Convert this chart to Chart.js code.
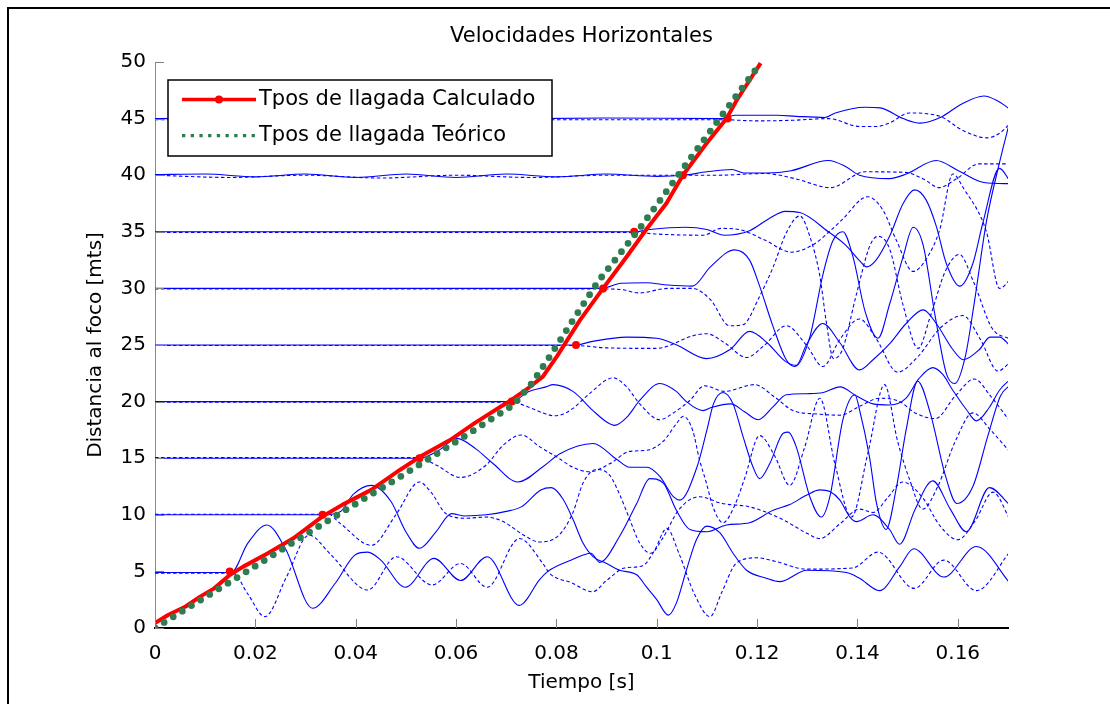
<!DOCTYPE html>
<html>
<head>
<meta charset="utf-8">
<script src="https://cdn.jsdelivr.net/npm/chart.js@4"></script>
<style>
  html, body { margin: 0; padding: 0; background: #fff; overflow: hidden; }
  #wrap { position: relative; width: 1110px; height: 704px; }
  #frame { position: absolute; left: 7px; top: 7px; width: 1200px; height: 800px; border: 2px solid #000; }
  #chart { position: absolute; left: 0; top: 0; }
</style>
</head>
<body>
<div id="wrap">
  <div id="frame"></div>
  <canvas id="chart" width="1110" height="704"></canvas>
</div>
<script>
// axis ticks
const xTicks = [0, 0.02, 0.04, 0.06, 0.08, 0.1, 0.12, 0.14, 0.16];
const yTicks = [0, 5, 10, 15, 20, 25, 30, 35, 40, 45, 50];

// arrival times, [tiempo s, distancia m]
const calculado = [[0,0.44],[0.0026,1.15],[0.0061,1.9],[0.009,2.77],[0.0118,3.5],[0.0149,4.68],[0.0175,5.4],[0.0225,6.6],[0.0275,7.9],[0.0332,9.8],[0.0374,10.9],[0.0431,12.2],[0.0488,13.96],[0.0527,15.1],[0.0588,16.6],[0.0637,18.1],[0.0687,19.5],[0.0709,20.1],[0.0744,21.2],[0.0773,22.2],[0.0801,24.0],[0.0847,27.2],[0.0893,30.0],[0.094,32.8],[0.0979,35.2],[0.1019,37.5],[0.1052,40.0],[0.1099,42.8],[0.1139,45.0],[0.1159,46.6],[0.1207,49.9]];
const calcMarks = [[0.0149,5],[0.0334,10],[0.0527,15],[0.0711,20],[0.0839,25],[0.0893,30],[0.0955,35],[0.1052,40],[0.1141,45]];
const teorico = [[0,0],[0.0147,4.0],[0.0327,9.0],[0.049,13.4],[0.0605,16.6],[0.0714,19.7],[0.0751,21.6],[0.0787,24.0],[0.0833,27.2],[0.0883,30.6],[0.0966,35.3],[0.1046,40.2],[0.1125,45.0],[0.1207,49.9]];

// seismic traces, solid (s) and dashed (d) per receiver distance
const s5 = [[0,4.9],[0.0152,4.9],[0.0185,7.5],[0.0223,9.1],[0.026,7.0],[0.0314,1.74],[0.036,4.0],[0.04,6.5],[0.0424,6.7],[0.045,6.0],[0.0499,3.6],[0.0556,6.15],[0.0609,4.2],[0.0662,6.3],[0.0726,2.0],[0.0767,4.3],[0.0783,5.0],[0.083,6.0],[0.0869,6.6],[0.0886,5.8],[0.0926,8.1],[0.096,11.0],[0.0986,13.2],[0.1013,12.8],[0.1039,10.4],[0.1066,8.7],[0.11,8.5],[0.1139,9.1],[0.1185,9.3],[0.1232,10.4],[0.1265,10.9],[0.1299,11.75],[0.1325,12.2],[0.1345,12.05],[0.1365,11.3],[0.1385,9.8],[0.1398,9.4],[0.1431,10.0],[0.1464,8.7],[0.1484,7.4],[0.1515,10.5],[0.155,13.0],[0.1585,10.5],[0.1617,8.5],[0.1663,12.4],[0.1705,10.8]];
const d5 = [[0,4.85],[0.0155,4.85],[0.0185,3.0],[0.0219,1.0],[0.0262,4.5],[0.0307,8.2],[0.035,6.5],[0.0424,3.36],[0.0481,6.3],[0.0552,3.8],[0.0609,5.7],[0.0662,3.6],[0.0726,7.9],[0.0773,5.7],[0.0787,4.8],[0.083,4.0],[0.0872,3.2],[0.09,4.2],[0.0936,5.3],[0.0972,5.5],[0.0995,6.8],[0.102,8.8],[0.1045,6.5],[0.1075,3.0],[0.1106,1.0],[0.113,3.2],[0.1158,5.7],[0.12,6.2],[0.1235,5.9],[0.1299,5.2],[0.139,5.3],[0.1441,6.7],[0.1513,3.5],[0.1572,6.0],[0.1637,3.3],[0.1705,6.8]];
const s10 = [[0,10],[0.0334,10],[0.037,10.3],[0.0395,11.8],[0.0431,12.6],[0.047,11.2],[0.05,8.5],[0.0527,7.04],[0.056,8.5],[0.0591,10.1],[0.0616,9.9],[0.066,10.0],[0.07,10.3],[0.073,10.7],[0.0769,12.2],[0.079,12.4],[0.0813,11.4],[0.0833,9.6],[0.0853,7.5],[0.0873,6.3],[0.09,5.7],[0.0926,5.1],[0.096,4.7],[0.0979,3.65],[0.1,2.5],[0.1023,1.14],[0.1039,2.2],[0.1059,5.1],[0.1079,7.8],[0.11,9.0],[0.1126,8.4],[0.1152,6.6],[0.1179,5.1],[0.1218,4.4],[0.1245,4.1],[0.1299,5.1],[0.1378,4.9],[0.1404,4.4],[0.1444,3.3],[0.1484,5.4],[0.1512,7.0],[0.1572,4.5],[0.1637,7.2],[0.1705,3.9]];
const d10 = [[0,10.05],[0.0345,10.05],[0.037,9.2],[0.0431,7.3],[0.048,10.0],[0.0527,12.9],[0.055,12.0],[0.058,10.1],[0.062,9.7],[0.066,9.8],[0.0694,9.4],[0.0735,8.2],[0.0766,7.6],[0.0805,8.2],[0.0833,10.2],[0.0853,12.8],[0.088,14.0],[0.0906,13.5],[0.0926,11.8],[0.0946,9.6],[0.0966,7.5],[0.0988,6.6],[0.101,7.8],[0.1045,10.5],[0.1085,11.6],[0.113,11.0],[0.1185,10.7],[0.125,9.6],[0.1298,8.4],[0.1325,7.9],[0.1365,9.2],[0.1404,10.5],[0.1431,10.2],[0.146,11.5],[0.149,12.9],[0.153,11.5],[0.1565,9.0],[0.16,7.8],[0.1635,9.5],[0.167,12.0],[0.1705,9.5]];
const s15 = [[0,15],[0.0527,15],[0.0566,15.7],[0.0602,16.75],[0.064,15.8],[0.0673,14.55],[0.0723,12.9],[0.0773,14.25],[0.0807,15.4],[0.0873,16.3],[0.092,14.9],[0.0946,14.2],[0.098,14.2],[0.1006,13.4],[0.1033,11.6],[0.1046,11.3],[0.108,14.2],[0.11,17.5],[0.1113,19.8],[0.1132,20.8],[0.1152,19.8],[0.1172,16.9],[0.1192,14.2],[0.1205,13.2],[0.1225,14.5],[0.1252,17.2],[0.1262,17.3],[0.1278,16.0],[0.1305,11.6],[0.1328,9.8],[0.1345,11.6],[0.1371,18.4],[0.1395,20.6],[0.1404,19.3],[0.1424,15.1],[0.1438,11.0],[0.1457,8.7],[0.1478,12.5],[0.1497,17.5],[0.152,21.8],[0.1545,19.0],[0.1575,13.5],[0.1598,11.0],[0.163,12.5],[0.166,17.0],[0.1685,20.5],[0.1705,21.5]];
const d15 = [[0,15.05],[0.0527,15.05],[0.056,14.4],[0.0609,13.3],[0.066,14.4],[0.0695,16.2],[0.073,17.05],[0.0767,16.0],[0.0801,15.1],[0.0833,14.2],[0.0866,13.8],[0.0906,14.5],[0.0946,15.6],[0.098,15.7],[0.1013,16.5],[0.104,18.1],[0.1053,18.7],[0.1072,17.4],[0.1085,14.9],[0.1099,12.8],[0.1112,10.7],[0.1132,9.3],[0.1155,10.8],[0.1175,13.2],[0.1205,17.0],[0.1235,15.2],[0.1265,12.6],[0.1295,16.0],[0.1325,20.3],[0.1355,14.5],[0.1388,9.8],[0.1421,15.5],[0.1454,21.5],[0.148,16.5],[0.1504,13.1],[0.153,10.5],[0.156,12.5],[0.1595,16.5],[0.163,19.0],[0.1665,17.5],[0.1705,15.5]];
const s20 = [[0,20],[0.0711,20],[0.0745,20.9],[0.0779,21.3],[0.0793,21.5],[0.0833,20.9],[0.0873,19.2],[0.09,18.2],[0.0916,17.9],[0.094,18.6],[0.0966,20.1],[0.1006,21.6],[0.1039,20.9],[0.1059,20.0],[0.1092,19.2],[0.111,19.5],[0.1148,19.8],[0.1175,19.1],[0.1202,18.4],[0.1232,19.55],[0.1258,20.6],[0.1299,20.7],[0.1332,20.8],[0.1365,21.3],[0.1398,20.5],[0.1431,19.8],[0.1464,19.7],[0.1497,20.3],[0.1522,22.0],[0.155,23.0],[0.157,22.4],[0.159,21.0],[0.1617,19.3],[0.1637,18.3],[0.1663,19.5],[0.1683,21.0],[0.1705,22.0]];
const d20 = [[0,19.95],[0.0711,19.95],[0.0745,19.5],[0.0773,19.0],[0.0795,18.75],[0.0807,18.8],[0.0833,19.4],[0.0866,20.7],[0.0913,22.1],[0.094,21.3],[0.0966,19.8],[0.1006,18.4],[0.1033,19.0],[0.1066,20.1],[0.1095,21.4],[0.1135,20.9],[0.1195,21.5],[0.1235,20.4],[0.1272,19.2],[0.132,18.9],[0.1365,18.8],[0.1405,19.6],[0.1444,20.3],[0.1484,20.0],[0.1515,19.0],[0.1555,18.5],[0.1595,20.5],[0.1633,22.0],[0.1665,20.5],[0.1705,18.2]];
const s25 = [[0,25],[0.0839,25],[0.087,25.3],[0.094,25.7],[0.1,25.6],[0.104,25.0],[0.1099,23.8],[0.1146,24.6],[0.1185,26.2],[0.122,25.2],[0.1255,23.6],[0.1278,23.2],[0.1298,25.0],[0.1331,26.9],[0.1365,25.2],[0.1404,22.8],[0.1431,23.7],[0.1464,25.1],[0.1497,26.9],[0.1531,28.1],[0.1557,26.9],[0.159,24.6],[0.1611,23.7],[0.1643,24.6],[0.1664,25.7],[0.1683,25.7],[0.1705,24.9]];
const d25 = [[0,24.95],[0.0839,24.95],[0.09,24.75],[0.1,24.7],[0.1071,25.8],[0.1099,26.0],[0.1135,25.2],[0.1179,23.9],[0.1215,25.0],[0.1258,26.7],[0.1298,25.0],[0.1331,23.1],[0.1365,25.5],[0.1404,27.3],[0.1438,25.5],[0.148,22.6],[0.1521,24.0],[0.1565,26.5],[0.161,27.6],[0.1645,25.5],[0.168,22.7],[0.1705,23.5]];
const s30 = [[0,30],[0.089,30],[0.0929,30.45],[0.0979,30.5],[0.1022,30.3],[0.1071,30.2],[0.1107,31.9],[0.1155,33.4],[0.1185,32.5],[0.1205,30.2],[0.1232,26.6],[0.1258,23.7],[0.1275,23.1],[0.1305,25.7],[0.1331,31.2],[0.1351,34.2],[0.1371,35.0],[0.1391,32.8],[0.1415,28.0],[0.1441,25.6],[0.1464,28.6],[0.1491,32.8],[0.1511,35.4],[0.1531,33.8],[0.1555,27.5],[0.1577,22.5],[0.1594,21.6],[0.1615,24.0],[0.1632,28.5],[0.1657,35.9],[0.1683,41.1],[0.1705,45.0]];
const d30 = [[0,29.95],[0.089,29.95],[0.0929,29.9],[0.0965,29.6],[0.1022,30.0],[0.1071,30.0],[0.1107,29.0],[0.1145,26.7],[0.1172,26.8],[0.1205,29.3],[0.1232,31.9],[0.1258,34.9],[0.1285,36.4],[0.1305,34.6],[0.1325,31.1],[0.1338,27.0],[0.1352,23.8],[0.137,24.6],[0.1398,29.5],[0.1425,33.8],[0.1441,34.6],[0.1464,33.5],[0.1491,28.5],[0.1521,24.7],[0.1545,27.5],[0.1575,31.5],[0.1603,33.0],[0.1632,30.5],[0.1668,26.5],[0.1705,25.5]];
const s35 = [[0,35],[0.0955,35],[0.0986,35.2],[0.1057,35.4],[0.11,35.2],[0.1135,34.7],[0.1185,35.1],[0.1225,36.2],[0.1256,36.8],[0.1285,36.7],[0.1342,35.0],[0.1377,33.8],[0.1405,32.4],[0.1418,31.9],[0.1437,32.5],[0.1464,34.6],[0.1491,37.5],[0.1514,38.7],[0.1537,37.8],[0.1557,35.5],[0.1577,32.2],[0.1604,30.2],[0.163,32.2],[0.165,35.8],[0.1683,40.6],[0.1705,39.4]];
const d35 = [[0,34.95],[0.0955,34.95],[0.1,34.8],[0.1093,34.7],[0.1128,35.3],[0.1164,35.2],[0.1214,34.3],[0.1268,33.2],[0.1313,33.9],[0.1346,35.1],[0.137,36.1],[0.142,38.1],[0.1451,36.9],[0.1477,34.3],[0.1511,31.5],[0.1537,32.6],[0.1564,35.2],[0.159,40.1],[0.1612,38.8],[0.1657,35.0],[0.1683,30.0],[0.1705,30.8]];
const s40 = [[0,40.05],[0.01,40.1],[0.02,39.85],[0.03,40.1],[0.04,39.8],[0.05,40.1],[0.06,39.8],[0.07,40.1],[0.08,39.85],[0.09,40.1],[0.1,39.9],[0.1054,40.0],[0.11,40.3],[0.115,40.5],[0.1174,40.2],[0.122,40.2],[0.1268,40.4],[0.1342,41.3],[0.1377,40.75],[0.1404,40.0],[0.1464,39.7],[0.1497,40.1],[0.1557,41.3],[0.1601,40.4],[0.1652,39.35],[0.1705,39.25]];
const d40 = [[0,40.0],[0.015,39.8],[0.03,40.0],[0.045,39.75],[0.06,40.0],[0.075,39.8],[0.09,40.0],[0.1054,40.0],[0.112,40.0],[0.1214,40.15],[0.1275,39.7],[0.1346,38.9],[0.1415,40.3],[0.1495,40.25],[0.1534,39.6],[0.1562,38.9],[0.1598,39.7],[0.1642,41.0],[0.1705,41.0]];
const s45 = [[0,45],[0.03,45.05],[0.06,44.95],[0.09,45.05],[0.113,45],[0.1155,45.3],[0.124,45.3],[0.1278,45.2],[0.1335,45.1],[0.1356,45.5],[0.1415,46.0],[0.1445,45.95],[0.1491,45.0],[0.1525,44.6],[0.1565,45.1],[0.1608,46.3],[0.1652,47.0],[0.1678,46.6],[0.1705,45.8]];
const d45 = [[0,44.9],[0.113,44.9],[0.12,44.8],[0.127,44.85],[0.1342,45.0],[0.1405,44.3],[0.1437,44.3],[0.1463,44.6],[0.1504,45.5],[0.1544,45.4],[0.157,45.1],[0.1608,44.0],[0.1658,43.3],[0.1683,43.7],[0.1705,44.6]];

const solidTraces = [s5, s10, s15, s20, s25, s30, s35, s40, s45];
const dashedTraces = [d5, d10, d15, d20, d25, d30, d35, d40, d45];

const toXY = arr => arr.map(p => ({x: p[0], y: p[1]}));
const FONT = 'DejaVu Sans';
const BLUE = '#0000ff';
const GREEN = '#2e7d50';
const RED = '#ff0000';

const datasets = [
  {
    label: 'Tpos de llagada Teórico', legendPos: 1,
    data: toXY(teorico), borderColor: GREEN, borderWidth: 6.8,
    borderDash: [0, 10.7], borderCapStyle: 'round', pointRadius: 0, tension: 0
  },
  {
    label: 'marcas', data: toXY(calcMarks), showLine: false,
    pointRadius: 4, pointBackgroundColor: RED, pointBorderWidth: 0, borderColor: RED
  },
  {
    label: 'Tpos de llagada Calculado', legendPos: 0,
    data: toXY(calculado), borderColor: RED, borderWidth: 4,
    borderJoinStyle: 'round', pointRadius: 0, tension: 0
  }
];
solidTraces.forEach(tr => datasets.push({
  data: toXY(tr), borderColor: BLUE, borderWidth: 1.1, pointRadius: 0,
  cubicInterpolationMode: 'monotone'
}));
dashedTraces.forEach(tr => datasets.push({
  data: toXY(tr), borderColor: BLUE, borderWidth: 1.1, pointRadius: 0,
  borderDash: [3.5, 2.5], cubicInterpolationMode: 'monotone'
}));

// tick marks pointing into the plot, like the original
const innerTicks = {
  id: 'innerTicks',
  afterDatasetsDraw(chart) {
    const {ctx, chartArea: a, scales: {x, y}} = chart;
    ctx.save();
    ctx.strokeStyle = '#808080';
    ctx.lineWidth = 1;
    x.ticks.forEach(t => {
      const px = Math.round(x.getPixelForValue(t.value)) + 0.5;
      ctx.beginPath(); ctx.moveTo(px, a.bottom); ctx.lineTo(px, a.bottom - 9); ctx.stroke();
    });
    y.ticks.forEach(t => {
      const py = Math.round(y.getPixelForValue(t.value)) + 0.5;
      ctx.beginPath(); ctx.moveTo(a.left, py); ctx.lineTo(a.left + 9, py); ctx.stroke();
    });
    ctx.restore();
  }
};

// boxed legend in the upper left of the plot
const boxLegend = {
  id: 'boxLegend',
  afterDraw(chart) {
    const {ctx, chartArea: a} = chart;
    const items = chart.data.datasets.filter(ds => ds.legendPos !== undefined)
      .sort((p, q) => p.legendPos - q.legendPos);
    const x0 = a.left + 13, y0 = a.top + 18, w = 384, h = 76;
    ctx.save();
    ctx.fillStyle = '#fff';
    ctx.fillRect(x0, y0, w, h);
    ctx.strokeStyle = '#000';
    ctx.lineWidth = 1.5;
    ctx.strokeRect(x0, y0, w, h);
    items.forEach((ds, i) => {
      const yy = y0 + 19.5 + i * 36.2;
      ctx.strokeStyle = ds.borderColor;
      ctx.beginPath();
      if (ds.borderDash) {
        ctx.lineWidth = 3.3;
        ctx.setLineDash([3.3, 5.4]);
        ctx.lineCap = 'butt';
      } else {
        ctx.lineWidth = 3.5;
        ctx.setLineDash([]);
      }
      ctx.moveTo(x0 + 14, yy);
      ctx.lineTo(x0 + 88, yy);
      ctx.stroke();
      ctx.setLineDash([]);
      if (!ds.borderDash) {
        ctx.fillStyle = ds.borderColor;
        ctx.beginPath();
        ctx.arc(x0 + 51, yy, 4, 0, Math.PI * 2);
        ctx.fill();
      }
      ctx.fillStyle = '#000';
      ctx.font = '21px "' + FONT + '"';
      ctx.textBaseline = 'middle';
      ctx.textAlign = 'left';
      ctx.fillText(ds.label, x0 + 91, yy);
    });
    ctx.restore();
  }
};

Chart.defaults.font.family = FONT;
Chart.defaults.color = '#000';

new Chart(document.getElementById('chart'), {
  type: 'line',
  data: {datasets},
  options: {
    responsive: false,
    animation: false,
    devicePixelRatio: 1,
    layout: {padding: {top: 0, left: 0, right: 102, bottom: 0}},
    plugins: {
      legend: {display: false},
      tooltip: {enabled: false},
      title: {
        display: true, text: 'Velocidades Horizontales', fullSize: false,
        font: {size: 21, weight: 'normal'}, color: '#000',
        padding: {top: 24, bottom: 12.8}
      }
    },
    scales: {
      x: {
        type: 'linear', min: 0, max: 0.17,
        afterFit: s => { s.height = 76; },
        afterBuildTicks: s => { s.ticks = xTicks.map(v => ({value: v})); },
        ticks: {
          includeBounds: false, padding: 14, maxRotation: 0,
          font: {size: 20}, color: '#000',
          callback: v => String(+(+v).toFixed(2))
        },
        grid: {display: false, drawTicks: false},
        border: {display: true, color: '#000', width: 2},
        title: {display: true, text: 'Tiempo [s]', font: {size: 20}, color: '#000', padding: {top: 0, bottom: 9}}
      },
      y: {
        type: 'linear', min: 0, max: 50,
        afterFit: s => { s.width = 155; },
        afterBuildTicks: s => { s.ticks = yTicks.map(v => ({value: v})); },
        ticks: {padding: 9, font: {size: 20}, color: '#000'},
        grid: {display: false, drawTicks: false},
        border: {display: true, color: '#888', width: 1},
        title: {display: true, text: 'Distancia al foco [mts]', font: {size: 20}, color: '#000', padding: {top: 84, bottom: 0}}
      }
    }
  },
  plugins: [innerTicks, boxLegend]
});
</script>
</body>
</html>
